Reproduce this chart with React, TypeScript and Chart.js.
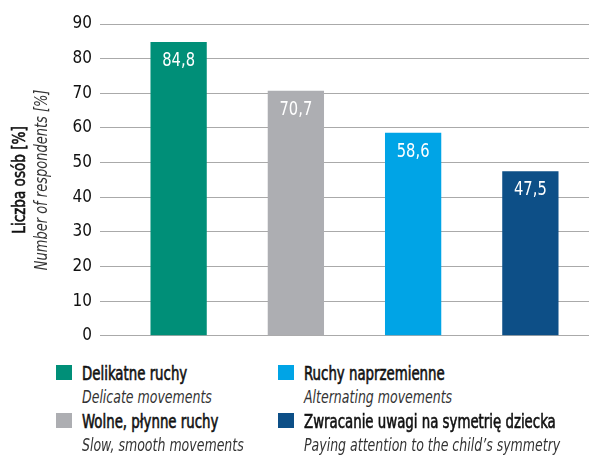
import React, { useEffect, useRef } from "react";
import { Chart, registerables } from "chart.js";

Chart.register(...registerables);

const categoriesPl = ["Delikatne ruchy", "Wolne, płynne ruchy", "Ruchy naprzemienne", "Zwracanie uwagi na symetrię dziecka"];
const categoriesEn = ["Delicate movements", "Slow, smooth movements", "Alternating movements", "Paying attention to the child’s symmetry"];
const values = [84.8, 70.7, 58.6, 47.5];
const valueLabels = ["84,8", "70,7", "58,6", "47,5"];
const colors = ["#008f78", "#adaeb2", "#00a4e6", "#0d4f87"];
const yTitlePl = "Liczba osób [%]";
const yTitleEn = "Number of respondents [%]";

const FONT = "'DejaVu Sans Condensed', 'Liberation Sans Narrow', sans-serif";

const extrasPlugin = {
  id: "extras",
  afterDatasetsDraw(chart: any) {
    const ctx = chart.ctx;
    const meta = chart.getDatasetMeta(0);
    ctx.save();
    ctx.fillStyle = "#ffffff";
    ctx.font = `19px ${FONT}`;
    ctx.textAlign = "center";
    ctx.textBaseline = "middle";
    meta.data.forEach((bar: any, i: number) => {
      ctx.save();
      ctx.translate(bar.x, bar.y + 19);
      ctx.scale(0.86, 1);
      ctx.fillText(valueLabels[i], 0, 0);
      ctx.restore();
    });
    ctx.restore();
    const area = chart.chartArea;
    const cy = (area.top + area.bottom) / 2;
    ctx.save();
    ctx.translate(20, cy);
    ctx.rotate(-Math.PI / 2);
    ctx.textAlign = "center";
    ctx.textBaseline = "middle";
    ctx.save();
    ctx.scale(0.84, 1);
    ctx.fillStyle = "#111111";
    ctx.strokeStyle = "#111111";
    ctx.lineWidth = 0.6;
    ctx.font = `18px ${FONT}`;
    ctx.fillText(yTitlePl, 0, 0);
    ctx.strokeText(yTitlePl, 0, 0);
    ctx.restore();
    ctx.save();
    ctx.scale(0.85, 1);
    ctx.fillStyle = "#333333";
    ctx.font = `italic 17px ${FONT}`;
    ctx.fillText(yTitleEn, 0, 23);
    ctx.restore();
    ctx.restore();
  },
};

export default function App() {
  const ref = useRef<HTMLCanvasElement>(null);
  useEffect(() => {
    if (!ref.current) return;
    const chart = new Chart(ref.current, {
      type: "bar",
      data: {
        labels: categoriesPl,
        datasets: [
          {
            data: values,
            backgroundColor: colors,
            barPercentage: 0.48,
            categoryPercentage: 1,
          },
        ],
      },
      options: {
        animation: false,
        responsive: false,
        layout: { padding: { top: 24, right: 11, bottom: 11, left: 0 } },
        plugins: { legend: { display: false }, tooltip: { enabled: false } },
        scales: {
          x: { display: false },
          y: {
            min: 0,
            max: 90,
            ticks: {
              stepSize: 10,
              padding: 8,
              color: "#111111",
              font: { family: FONT, size: 17 },
            },
            grid: { color: "#aaaaaa", tickColor: "#aaaaaa", tickLength: 20, lineWidth: 1 },
            border: { display: false },
            afterFit(scale: any) {
              scale.width = 120;
            },
          },
        },
      },
      plugins: [extrasPlugin],
    });
    return () => chart.destroy();
  }, []);

  const legendItem = (i: number, left: number, top: number) => (
    <div key={i} style={{ position: "absolute", left, top }}>
      <div style={{ position: "absolute", left: 0, top: 4, width: 16, height: 15, background: colors[i] }} />
      <div
        style={{
          position: "absolute",
          left: 26,
          top: 0,
          whiteSpace: "nowrap",
          lineHeight: "24px",
          fontFamily: FONT,
        }}
      >
        <div
          style={{
            fontSize: 19,
            color: "#111",
            WebkitTextStroke: "0.6px #111",
            transform: "scaleX(0.78)",
            transformOrigin: "0 0",
          }}
        >
          {categoriesPl[i]}
        </div>
        <div style={{ fontSize: 17, fontStyle: "italic", color: "#333", transform: "scaleX(0.82)", transformOrigin: "0 0" }}>
          {categoriesEn[i]}
        </div>
      </div>
    </div>
  );

  return (
    <div style={{ position: "fixed", left: 0, top: 0, width: 600, height: 455, background: "#fff" }}>
      <canvas ref={ref} width={600} height={354} style={{ position: "absolute", left: 0, top: 0 }} />
      {legendItem(0, 56, 361)}
      {legendItem(1, 56, 409)}
      {legendItem(2, 278, 361)}
      {legendItem(3, 278, 409)}
    </div>
  );
}
